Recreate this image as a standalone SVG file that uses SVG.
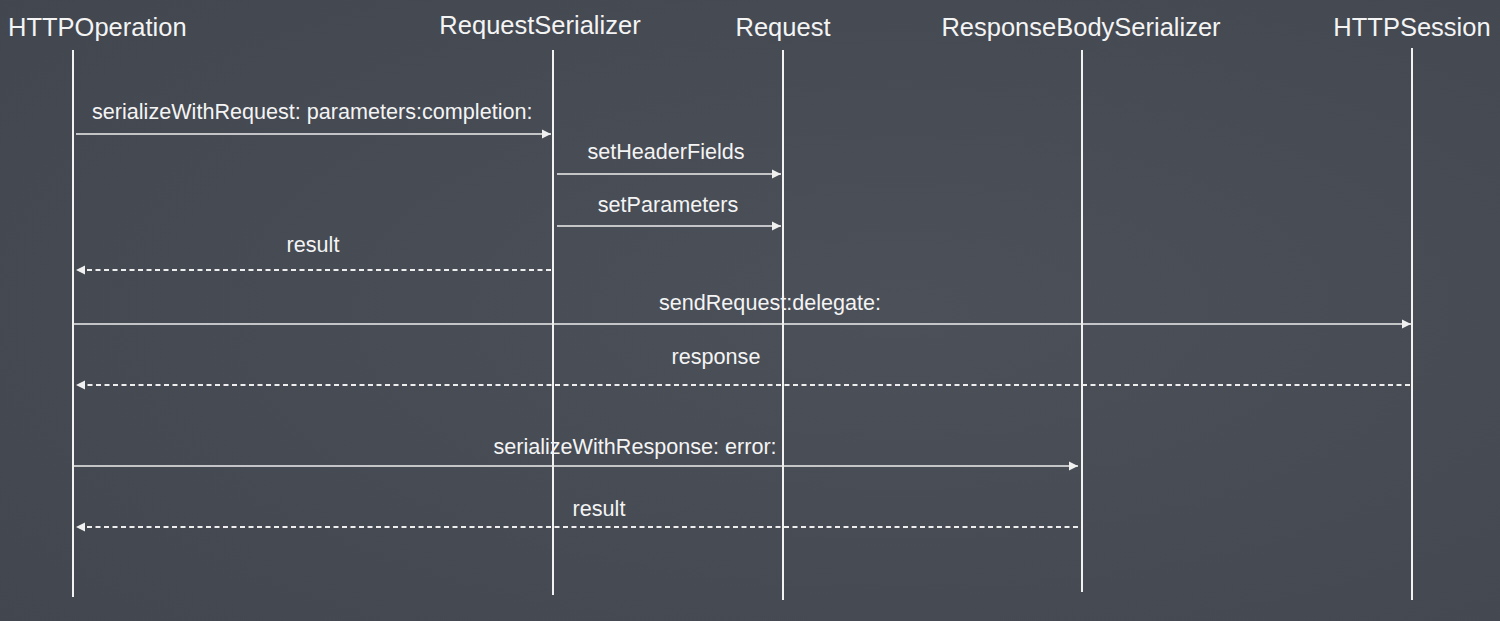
<svg xmlns="http://www.w3.org/2000/svg" width="1500" height="621" viewBox="0 0 1500 621">
<style>
.title{font-family:"Liberation Sans",Arial,sans-serif;font-size:25.5px;fill:#f4f4f4}
.lbl{font-family:"Liberation Sans",Arial,sans-serif;font-size:21.6px;fill:#f4f4f4}
.life{stroke:#f2f2f2;stroke-width:2;fill:none}
.msg{stroke:#eeeeee;stroke-width:1.5;fill:none}
.ret{stroke:#eeeeee;stroke-width:2;fill:none;stroke-dasharray:5 3.5}
</style>
<defs>
<radialGradient id="bg" cx="0.6" cy="0.5" r="0.8">
<stop offset="0" stop-color="#4b5059"/>
<stop offset="1" stop-color="#41464f"/>
</radialGradient>
<marker id="ah" markerWidth="10" markerHeight="10" refX="9" refY="5" orient="auto" markerUnits="userSpaceOnUse">
<path d="M0,0.5 L9,5 L0,9.5 Z" fill="#f0f0f0"/>
</marker>
</defs>
<rect width="1500" height="621" fill="url(#bg)"/>
<g id="HTTPOperation">
<text class="title" x="8" y="36">HTTPOperation</text>
<line class="life" x1="73" y1="50" x2="73" y2="597"/>
</g>
<g id="RequestSerializer">
<text class="title" x="540" y="34" text-anchor="middle">RequestSerializer</text>
<line class="life" x1="553" y1="50" x2="553" y2="595"/>
</g>
<g id="Request">
<text class="title" x="783" y="36" text-anchor="middle">Request</text>
<line class="life" x1="783" y1="50" x2="783" y2="600"/>
</g>
<g id="ResponseBodySerializer">
<text class="title" x="1081" y="36" text-anchor="middle">ResponseBodySerializer</text>
<line class="life" x1="1082" y1="50" x2="1082" y2="592"/>
</g>
<g id="HTTPSession">
<text class="title" x="1412" y="36" text-anchor="middle">HTTPSession</text>
<line class="life" x1="1412" y1="48" x2="1412" y2="600"/>
</g>
<g id="connectors">
<line class="msg" x1="76" y1="134" x2="551" y2="134" marker-end="url(#ah)"/>
<text class="lbl" x="92" y="119">serializeWithRequest: parameters:completion:</text>
<line class="msg" x1="557" y1="174" x2="781" y2="174" marker-end="url(#ah)"/>
<text class="lbl" x="666" y="159" text-anchor="middle">setHeaderFields</text>
<line class="msg" x1="557" y1="226" x2="781" y2="226" marker-end="url(#ah)"/>
<text class="lbl" x="668" y="212" text-anchor="middle">setParameters</text>
<line class="ret" x1="551" y1="270" x2="76" y2="270" marker-end="url(#ah)"/>
<text class="lbl" x="313" y="252" text-anchor="middle">result</text>
<line class="msg" x1="73" y1="324" x2="1411" y2="324" marker-end="url(#ah)"/>
<text class="lbl" x="770" y="310" text-anchor="middle">sendRequest:delegate:</text>
<line class="ret" x1="1410" y1="385" x2="76" y2="385" marker-end="url(#ah)"/>
<text class="lbl" x="716" y="364" text-anchor="middle">response</text>
<line class="msg" x1="73" y1="466" x2="1078" y2="466" marker-end="url(#ah)"/>
<text class="lbl" x="635" y="454" text-anchor="middle">serializeWithResponse: error:</text>
<line class="ret" x1="1078" y1="527" x2="76" y2="527" marker-end="url(#ah)"/>
<text class="lbl" x="599" y="516" text-anchor="middle">result</text>
</g>
</svg>
